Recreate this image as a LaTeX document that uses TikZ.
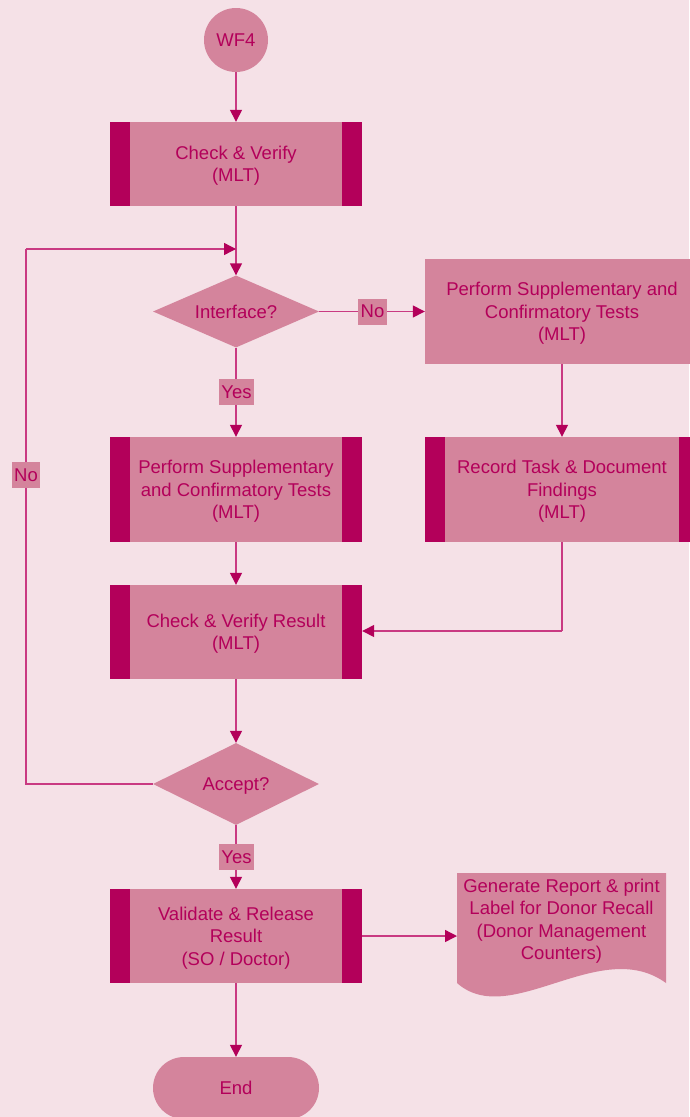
\documentclass[tikz,border=0pt]{standalone}
\usepackage{fontspec}
\setmainfont{Liberation Sans}
\usetikzlibrary{arrows.meta,shapes.misc,shapes.geometric}
\definecolor{bgpink}{HTML}{F5E1E7}
\definecolor{boxfill}{HTML}{D4849C}
\definecolor{barfill}{HTML}{B3005A}
\definecolor{inktext}{HTML}{B3005A}
\definecolor{linkline}{HTML}{C93A82}
\tikzset{
  base/.style={fill=boxfill, text=inktext, align=center, inner sep=0pt,
    text depth=0pt, font=\fontsize{18.5}{22.5}\selectfont},
  barbox/.style={base, rectangle, minimum width=252pt,
    path picture={
      \fill[barfill] (path picture bounding box.north west) rectangle
        ([xshift=20pt]path picture bounding box.south west);
      \fill[barfill] (path picture bounding box.north east) rectangle
        ([xshift=-20pt]path picture bounding box.south east);}},
  leftbarbox/.style={base, rectangle, minimum width=274pt,
    path picture={
      \fill[barfill] (path picture bounding box.north west) rectangle
        ([xshift=20pt]path picture bounding box.south west);
      \fill[barfill] (path picture bounding box.north east) rectangle
        ([xshift=-20pt]path picture bounding box.south east);}},
  plainbox/.style={base, rectangle, minimum width=274pt},
  decision/.style={base, shape=diamond, aspect=2.3, minimum width=166pt, minimum height=72pt},
  terminal/.style={base, circle, minimum size=64pt},
  stadium/.style={base, rounded rectangle, minimum width=166pt, minimum height=62pt},
  tag/.style={fill=boxfill, text=inktext, inner xsep=2.5pt, inner ysep=0pt,
    minimum height=26pt, font=\fontsize{18.5}{22.5}\selectfont},
  link/.style={draw=linkline, line width=1.4pt,
    -{Triangle[length=12pt,width=12pt,color=barfill]}},
  plainlink/.style={draw=linkline, line width=1.4pt},
}
\begin{document}
\begin{tikzpicture}[x=1pt,y=-1pt]
  \fill[bgpink] (0,0) rectangle (689,1117);
  \useasboundingbox (0,0) rectangle (689,1117);

  % start
  \node[terminal] (wf4) at (236,40) {WF4};
  \node[barbox, minimum height=84pt] (check) at (236,164) {Check \& Verify\\(MLT)};
  \node[decision] (iface) at (236,311.5) {Interface?};
  \node[plainbox, minimum height=105pt] (supR) at (562,311.5)
    {Perform Supplementary and\\Confirmatory Tests\\(MLT)};
  \node[barbox, minimum height=105pt] (supL) at (236,489.5)
    {Perform Supplementary\\and Confirmatory Tests\\(MLT)};
  \node[leftbarbox, minimum height=105pt] (record) at (562,489.5)
    {Record Task \& Document\\Findings\\(MLT)};
  \node[barbox, minimum height=94pt] (result) at (236,632)
    {Check \& Verify Result\\(MLT)};
  \node[decision, minimum height=82pt, aspect=2] (accept) at (236,784) {Accept?};
  \node[barbox, minimum height=94pt] (validate) at (236,936)
    {Validate \& Release\\Result\\(SO / Doctor)};
  \node[stadium] (endn) at (236,1088) {End};

  % report document with wavy lower edge
  \fill[boxfill] (457,873) -- (666,873) -- (666,983)
    .. controls (600,935) and (510,1030) .. (457,983) -- cycle;
  \node[base, fill=none] (report) at (561.5,919.5)
    {Generate Report \& print\\Label for Donor Recall\\(Donor Management\\Counters)};
  \coordinate (reportin) at (457,936);

  % connectors
  \coordinate (loopin) at (236,249);
  \coordinate (loopbot) at (26,784);
  \coordinate (looptop) at (26,249);
  \coordinate (recturn) at (562,631);

  \draw[link] (wf4) -- (check);
  \draw[link] (check) -- (iface);
  \draw[plainlink] (accept.west) -- (loopbot) -- (looptop);
  \draw[link] (looptop) -- (loopin);
  \node[tag] (noloop) at (26,475) {No};

  \draw[link] (iface.east) -- (supR.west);
  \node[tag] (noif) at (372.5,311.5) {No};
  \draw[link] (iface.south) -- (supL.north);
  \node[tag] (yesif) at (236.5,392) {Yes};

  \draw[link] (supR) -- (record);
  \draw[link] (supL) -- (result);
  \draw[plainlink] (record.south) -- (recturn);
  \draw[link] (recturn) -- (result.east |- recturn);
  \draw[link] (result) -- (accept);
  \draw[link] (accept.south) -- (validate.north);
  \node[tag] (yesacc) at (236.5,857) {Yes};
  \draw[link] (validate.east |- reportin) -- (reportin);
  \draw[link] (validate) -- (endn);
\end{tikzpicture}
\end{document}
